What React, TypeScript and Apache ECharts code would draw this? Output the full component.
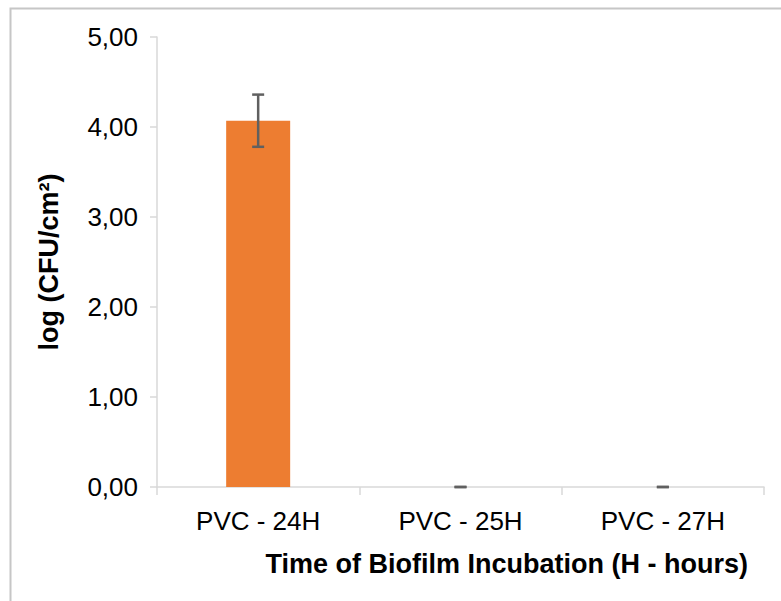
import React, { useEffect, useRef } from "react";
import * as echarts from "echarts";

const categories = ["PVC - 24H", "PVC - 25H", "PVC - 27H"];
const values = [4.07, 0, 0];
const errors = [0.29, 0, 0];
const yTicks = { min: 0, max: 5, interval: 1 };
const xTitle = "Time of Biofilm Incubation (H - hours)";
const yTitle = "log (CFU/cm²)";

export default function App() {
  const ref = useRef<HTMLDivElement>(null);
  useEffect(() => {
    const chart = echarts.init(ref.current!, null, { renderer: "svg" });
    const font = "Liberation Sans, Arial, sans-serif";
    chart.setOption({
      animation: false,
      backgroundColor: "#ffffff",
      grid: { left: 157, right: 17, top: 37, bottom: 114 },
      xAxis: {
        type: "category",
        data: categories,
        boundaryGap: true,
        axisLine: { show: true, lineStyle: { color: "#d9d9d9", width: 1.5 } },
        axisTick: { show: true, length: 8, lineStyle: { color: "#d9d9d9", width: 1.5 } },
        axisLabel: { color: "#000", fontSize: 26, fontFamily: font, margin: 21 },
      },
      yAxis: {
        type: "value",
        min: yTicks.min,
        max: yTicks.max,
        interval: yTicks.interval,
        splitLine: { show: false },
        axisLine: { show: true, lineStyle: { color: "#d9d9d9", width: 1.5 } },
        axisTick: { show: true, length: 7, lineStyle: { color: "#d9d9d9", width: 1.5 } },
        axisLabel: {
          color: "#000",
          fontSize: 26,
          fontFamily: font,
          margin: 19,
          formatter: (v: number) => v.toFixed(2).replace(".", ","),
        },
        name: yTitle,
        nameLocation: "middle",
        nameRotate: 90,
        nameGap: 95,
        nameTextStyle: { color: "#000", fontSize: 27, fontWeight: "bold", fontFamily: font },
      },
      graphic: [
        {
          type: "rect",
          shape: { x: 10.5, y: 8.5, width: 900, height: 800 },
          style: { fill: "none", stroke: "#c6c6c6", lineWidth: 2 },
          silent: true,
        },
        {
          type: "text",
          right: 33,
          top: 550,
          style: {
            text: xTitle,
            fill: "#000",
            font: `bold 27px ${font}`,
          },
        },
      ],
      series: [
        {
          type: "bar",
          data: values,
          barWidth: 64,
          itemStyle: { color: "#ED7D31" },
        },
        {
          type: "custom",
          data: values.map((v, i) => [i, v, errors[i]]),
          renderItem: (params: any, api: any) => {
            const x = api.value(0);
            const v = api.value(1);
            const e = api.value(2);
            const top = api.coord([x, v + e]);
            const bot = api.coord([x, v - e]);
            const hw = 6;
            const style = { stroke: "#606060", lineWidth: 2.5 };
            return {
              type: "group",
              children: [
                { type: "line", shape: { x1: top[0], y1: top[1], x2: bot[0], y2: bot[1] }, style },
                { type: "line", shape: { x1: top[0] - hw, y1: top[1], x2: top[0] + hw, y2: top[1] }, style },
                { type: "line", shape: { x1: bot[0] - hw, y1: bot[1], x2: bot[0] + hw, y2: bot[1] }, style },
              ],
            };
          },
          z: 5,
        },
      ],
    });
    return () => chart.dispose();
  }, []);
  return (
    <div
      ref={ref}
      style={{ position: "fixed", left: 0, top: 0, width: 781, height: 601, background: "#fff" }}
    />
  );
}
